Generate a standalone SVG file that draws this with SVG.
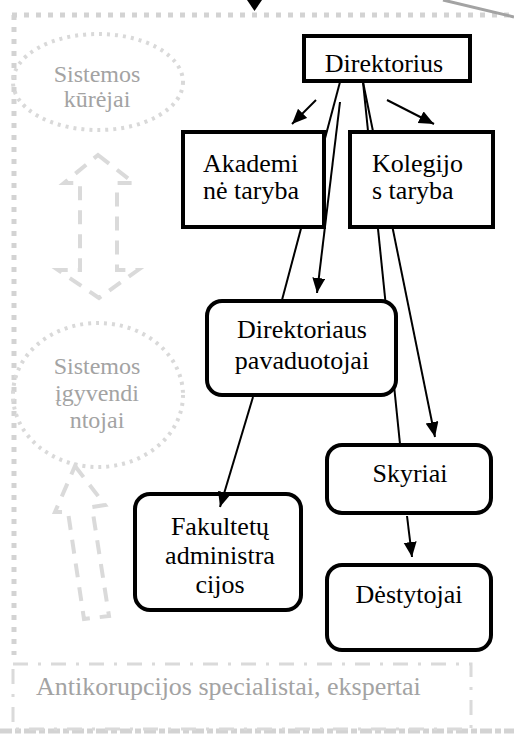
<svg xmlns="http://www.w3.org/2000/svg" width="514" height="734" viewBox="0 0 514 734">
<defs>
<marker id="ah" markerUnits="userSpaceOnUse" markerWidth="16" markerHeight="14" refX="15" refY="6.5" orient="auto">
<path d="M0,0 L15,6.5 L0,13 Z" fill="#000"/>
</marker>
<style>
.box{fill:#fff;stroke:#000;stroke-width:4}
.t{font-family:"Liberation Serif","Times New Roman",serif;font-size:26px;fill:#000}
.g{font-family:"Liberation Serif","Times New Roman",serif;font-size:24px;fill:#a3a3a3}
.mid{text-anchor:middle}
.con{stroke:#000;stroke-width:2;fill:none}
.frame{stroke:#d3d3d3;stroke-width:5;fill:none;stroke-dasharray:5 7}
.dot{stroke:#d9d9d9;stroke-width:4;fill:none;stroke-dasharray:3 5}
.blk{stroke:#dadada;stroke-width:4;fill:none;stroke-dasharray:14 10}
.dd{stroke:#dadada;stroke-width:3;fill:none;stroke-dasharray:15 10 3 10}
</style>
</defs>
<g id="frame">
<line class="frame" x1="12" y1="15" x2="514" y2="15"/>
<line class="frame" x1="14" y1="15" x2="14" y2="655"/>
<line x1="0" y1="731" x2="514" y2="731" stroke="#d3d3d3" stroke-width="5" stroke-dasharray="12 3 6 3"/>
<line x1="443" y1="0" x2="514" y2="17" stroke="#a3a3a3" stroke-width="3"/>
<polygon points="247,0 262,0 254.5,11" fill="#000"/>
</g>
<g id="kurejai">
<ellipse class="dot" cx="98" cy="82" rx="85" ry="48"/>
<text class="g mid" x="97" y="82">Sistemos</text>
<text class="g mid" x="97" y="107">kūrėjai</text>
</g>
<g id="arrow-updown">
<path class="blk" d="M98,155 L134,183 L117,183 L117,270 L138,270 L99,298 L58,270 L80,270 L80,183 L64,183 Z"/>
</g>
<g id="igyvendintojai">
<ellipse class="dot" cx="98" cy="395" rx="85" ry="72"/>
<text class="g mid" x="97" y="374">Sistemos</text>
<text class="g mid" x="97" y="401">įgyvendi</text>
<text class="g mid" x="97" y="428">ntojai</text>
</g>
<g id="arrow-up">
<path class="blk" d="M75,466 L105,505 L92,507 L109,616 L84,619 L68,512 L55,512 Z"/>
</g>
<g id="antikorupcija">
<rect class="dd" x="13" y="664" width="458" height="65"/>
<text class="g" x="36" y="695" style="font-size:26px">Antikorupcijos specialistai, ekspertai</text>
</g>
<g id="fakultetu">
<rect class="box" x="135" y="494" width="166" height="116" rx="15"/>
<text class="t mid" x="220" y="535">Fakultetų</text>
<text class="t mid" x="220" y="564">administra</text>
<text class="t mid" x="220" y="593">cijos</text>
</g>
<g id="connectors">
<line class="con" x1="316" y1="100" x2="292" y2="124" marker-end="url(#ah)"/>
<line class="con" x1="387" y1="100" x2="434" y2="124" marker-end="url(#ah)"/>
<line class="con" x1="340" y1="82" x2="282" y2="300"/>
<line class="con" x1="340" y1="102" x2="317" y2="293" marker-end="url(#ah)"/>
<line class="con" x1="363" y1="82" x2="400" y2="444"/>
<line class="con" x1="363" y1="82" x2="435" y2="437" marker-end="url(#ah)"/>
<line class="con" x1="253" y1="397" x2="220" y2="507" marker-end="url(#ah)"/>
<line class="con" x1="407" y1="516" x2="412" y2="557" marker-end="url(#ah)"/>
</g>
<g id="direktorius">
<rect class="box" x="304" y="36" width="166" height="45"/>
<text class="t mid" x="384" y="72">Direktorius</text>
</g>
<g id="akademine">
<rect class="box" x="183" y="132" width="141" height="95"/>
<text class="t" x="203" y="172">Akademi</text>
<text class="t" x="203" y="199">nė taryba</text>
</g>
<g id="kolegijos">
<rect class="box" x="350" y="132" width="143" height="95"/>
<text class="t" x="372" y="172">Kolegijo</text>
<text class="t" x="372" y="199">s taryba</text>
</g>
<g id="pavaduotojai">
<rect class="box" x="207" y="301" width="189" height="94" rx="15"/>
<text class="t mid" x="302" y="338">Direktoriaus</text>
<text class="t mid" x="302" y="369">pavaduotojai</text>
</g>
<g id="skyriai">
<rect class="box" x="327" y="445" width="164" height="68" rx="15"/>
<text class="t mid" x="410" y="482">Skyriai</text>
</g>
<g id="destytojai">
<rect class="box" x="327" y="565" width="164" height="85" rx="15"/>
<text class="t mid" x="409" y="603">Dėstytojai</text>
</g>
</svg>
